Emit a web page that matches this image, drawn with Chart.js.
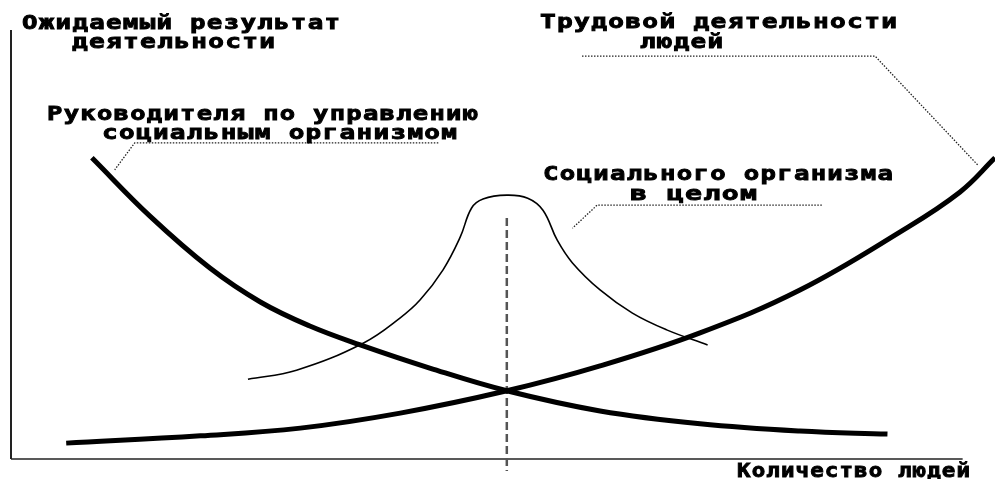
<!DOCTYPE html>
<html>
<head>
<meta charset="utf-8">
<script src="https://cdn.jsdelivr.net/npm/chart.js@4/dist/chart.umd.min.js"></script>
<style>
    html, body { margin: 0; padding: 0; background: #fff; }
    #chart { display: block; }
</style>
</head>
<body>
<canvas id="chart" width="995" height="479"></canvas>
<script>
/* =========================================================
   ДАННЫЕ (условные единицы: ось X 0–100, ось Y 0–100)
   ========================================================= */

const seriesNames = [
    "Руководителя по управлению социальным организмом",
    "Трудовой деятельности людей",
    "Социального организма в целом"
];

// Результат руководителя — убывает
const managerX = [8.5, 14.6, 20.9, 26.2, 31.4, 36.7, 44.0, 52.1, 61.9, 72.4, 82.9, 92.1];
const managerY = [70.2, 56.6, 44.5, 36.6, 31.0, 26.6, 21.2, 15.9, 11.2, 8.2, 6.5, 5.8];

// Результат трудовой деятельности — растёт
const laborX = [5.8, 19.9, 30.4, 40.9, 52.1, 61.9, 72.4, 82.9, 93.4, 99.7, 103.4];
const laborY = [3.7, 5.4, 7.2, 10.7, 15.9, 21.7, 29.4, 39.4, 52.9, 62.2, 70.2];

// Социальный организм в целом — колокол
const organismX = [24.9, 30.0, 37.0, 40.9, 43.0, 45.4, 47.2, 48.4, 49.6, 52.1, 54.3, 55.9, 57.4, 59.0, 61.9, 65.3, 68.9, 73.2];
const organismY = [18.6, 20.7, 27.0, 32.9, 37.1, 44.1, 51.7, 58.5, 60.6, 61.5, 60.8, 58.0, 51.0, 45.7, 39.4, 34.0, 30.1, 26.6];

// Оптимальное количество людей
const optimumX = [52.1, 52.1];
const optimumY = [56.2, -2.8];

// Выноски к подписям
const leaderLaborX = [60.0, 90.8, 101.6];
const leaderLaborY = [93.9, 93.9, 68.5];
const leaderManagerX = [44.9, 13.0, 10.9];
const leaderManagerY = [73.7, 73.7, 67.4];
const leaderOrganismX = [85.2, 61.6, 59.0];
const leaderOrganismY = [59.2, 59.2, 53.8];

// Оси
const axisXLine = [0, 100];
const axisYLine = [0, 100];

const axisTitles = ["Ожидаемый результат", "деятельности", "Количество людей"];


function toPoints(xs, ys) {
    return xs.map((x, i) => ({ x, y: ys[i] }));
}

function curve(label, xs, ys, width) {
    return {
        label,
        data: toPoints(xs, ys),
        borderColor: "#000",
        borderWidth: width,
        pointRadius: 0,
        tension: 0.4,
        clip: false
    };
}

function straight(xs, ys, color, width, dash) {
    return {
        label: "",
        data: toPoints(xs, ys),
        borderColor: color,
        borderWidth: width,
        borderDash: dash,
        pointRadius: 0,
        tension: 0,
        clip: false
    };
}


/* =========================================================
   ПОДПИСИ
   ========================================================= */

// [текст, левый край, правый край, базовая линия] в пикселях
const textLabels = [
    [axisTitles[0], 22, 340, 29],
    [axisTitles[1], 72, 275, 48],
    ["Трудовой деятельности", 540, 897, 28],
    ["людей", 640, 723, 48],
    ["Руководителя по управлению", 47, 478, 120],
    ["социальным организмом", 102, 457, 139],
    ["Социального организма", 543, 893, 180],
    ["в целом", 630, 757, 200],
    [axisTitles[2], 737, 970, 477]
];

const textPlugin = {
    id: "textLabels",
    afterDraw(chart) {
        const ctx = chart.ctx;

        textLabels.forEach(([text, left, right, base]) => {
            ctx.save();
            ctx.fillStyle = "#000";
            ctx.strokeStyle = "#000";
            ctx.lineWidth = 0.9;
            ctx.textBaseline = "alphabetic";
            ctx.font = 'bold 20px "DejaVu Sans Mono"';
            ctx.letterSpacing = "1px";
            const natural = ctx.measureText(text).width - 1;
            ctx.translate(left, base);
            ctx.scale((right - left) / natural, 1);
            ctx.fillText(text, 0, 0);
            ctx.strokeText(text, 0, 0);
            ctx.restore();
        });
    }
};


/* =========================================================
   ГРАФИК
   ========================================================= */

const hiddenScale = {
    type: "linear",
    ticks: { display: false },
    grid: { display: false, drawTicks: false },
    border: { display: false }
};

new Chart(document.getElementById("chart").getContext("2d"), {
    type: "line",

    data: {
        datasets: [
            curve(seriesNames[0], managerX, managerY, 5),
            curve(seriesNames[1], laborX, laborY, 5),
            curve(seriesNames[2], organismX, organismY, 1.6),
            straight(optimumX, optimumY, "#555", 2.5, [8, 4]),
            straight(leaderLaborX, leaderLaborY, "#222", 1.3, [1.5, 1.5]),
            straight(leaderManagerX, leaderManagerY, "#222", 1.3, [1.5, 1.5]),
            straight(leaderOrganismX, leaderOrganismY, "#222", 1.3, [1.5, 1.5]),
            straight(axisXLine, [0, 0], "#222", 1.5, []),
            straight([0, 0], axisYLine, "#222", 2, [])
        ]
    },

    options: {
        responsive: false,
        animation: false,

        layout: {
            padding: { left: 11, right: 0, top: 30, bottom: 20 }
        },

        plugins: {
            legend: { display: false },
            tooltip: { enabled: false }
        },

        scales: {
            x: {
                ...hiddenScale,
                min: 0,
                max: 103.4,
                afterFit(scale) { scale.height = 0; }
            },
            y: {
                ...hiddenScale,
                min: 0,
                max: 100,
                afterFit(scale) { scale.width = 0; }
            }
        }
    },

    plugins: [textPlugin]
});
</script>
</body>
</html>
